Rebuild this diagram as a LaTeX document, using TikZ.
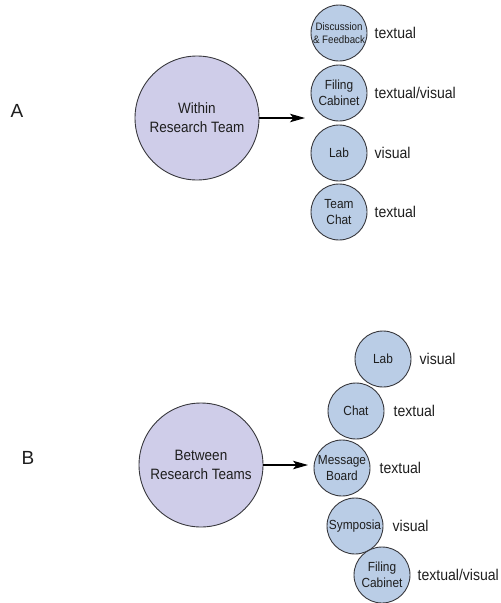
\documentclass[tikz,border=0pt]{standalone}
\usepackage{fontspec}
\setmainfont[FakeStretch=0.9]{Liberation Sans}
\newfontfamily\partfont{Liberation Sans}
\usetikzlibrary{positioning, arrows.meta}
\definecolor{teamfill}{RGB}{207,205,233}
\definecolor{modefill}{RGB}{186,205,230}
\definecolor{rim}{RGB}{55,55,60}
\definecolor{ink}{RGB}{30,30,30}

\begin{document}
\begin{tikzpicture}[x=1pt, y=-1pt, text=ink,
		team/.style={circle, draw=rim, line width=0.9pt, fill=teamfill, minimum size=124pt, inner sep=0pt, align=center, font=\fontsize{15}{19}\selectfont},
		mode/.style={circle, draw=rim, line width=0.9pt, fill=modefill, minimum size=56pt, inner sep=0pt, align=center, font=\fontsize{13.2}{16.5}\selectfont},
		kind/.style={inner sep=0pt, font=\fontsize{15.6}{17}\selectfont},
		part/.style={font=\partfont\fontsize{19}{20}\selectfont},
		>={Stealth[length=15pt, width=8.5pt, inset=3.5pt]}]
		\useasboundingbox (0,0) rectangle (501,603);
		% A: within one team
		\node[part] (pa) at (17,111) {A};
		\node[team] (within) at (197,118) {Within\\Research Team};
		\node[mode, inner sep=-4pt, font=\fontsize{10.8}{13.5}\selectfont] (a1) at (339,33) {Discussion\\\& Feedback};
		\node[mode] (a2) at (339,93) {Filing\\Cabinet};
		\node[mode] (a3) at (339,153) {Lab};
		\node[mode] (a4) at (339,212) {Team\\Chat};
		\node[kind, right=7pt of a1] (k1) {textual};
		\node[kind, right=7pt of a2] (k2) {textual/visual};
		\node[kind, right=7pt of a3] (k3) {visual};
		\node[kind, right=7pt of a4] (k4) {textual};
		\coordinate (aend) at (305,118);
		\draw[->, line width=1.1pt] (within) edge (aend);
		% B: between teams
		\node[part] (pb) at (28,458) {B};
		\node[team] (between) at (201,465) {Between\\Research Teams};
		\node[mode] (b1) at (383,359) {Lab};
		\node[mode] (b2) at (356,411) {Chat};
		\node[mode, inner sep=-2pt] (b3) at (342,468) {Message\\Board};
		\node[mode, inner sep=-2pt] (b4) at (355,526) {Symposia};
		\node[mode] (b5) at (382,575) {Filing\\Cabinet};
		\node[kind, right=8pt of b1] (l1) {visual};
		\node[kind, right=9pt of b2] (l2) {textual};
		\node[kind, right=9pt of b3] (l3) {textual};
		\node[kind, right=9pt of b4] (l4) {visual};
		\node[kind, right=7pt of b5] (l5) {textual/visual};
		\coordinate (bend) at (308,465);
		\draw[->, line width=1.1pt] (between) edge (bend);
	\end{tikzpicture}
\end{document}
